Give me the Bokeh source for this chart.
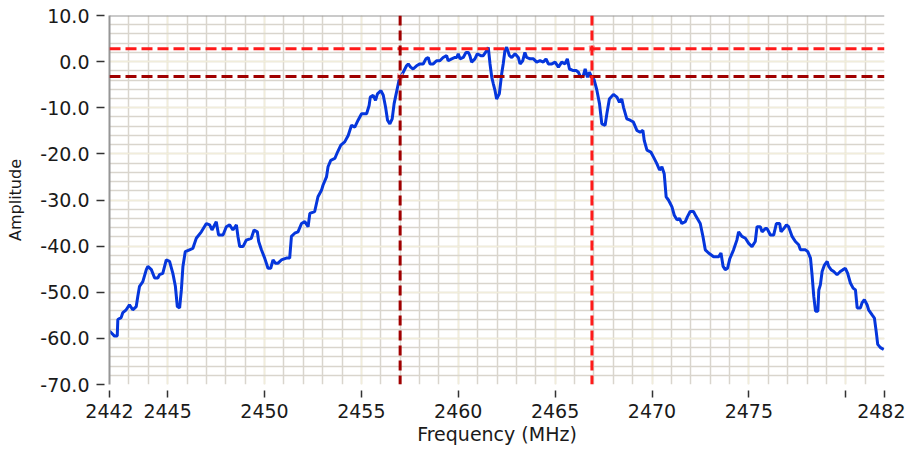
from bokeh.plotting import figure
from bokeh.models import Range1d, FixedTicker, PrintfTickFormatter, Span
from bokeh.embed import file_html
from bokeh.resources import INLINE

# Spectrum trace: frequency (MHz) and amplitude (dB)
freq = [
    2442.00, 2442.26, 2442.40, 2442.43, 2442.60, 2442.69, 2442.86, 2443.03, 2443.20, 2443.38,
    2443.46, 2443.55, 2443.72, 2443.90, 2443.98, 2444.16, 2444.33, 2444.50, 2444.58, 2444.75,
    2444.93, 2445.10, 2445.27, 2445.40, 2445.50, 2445.62, 2445.71, 2445.79, 2445.91, 2446.13,
    2446.30, 2446.48, 2446.74, 2447.00, 2447.17, 2447.29, 2447.51, 2447.63, 2447.86, 2448.03,
    2448.20, 2448.37, 2448.55, 2448.63, 2448.72, 2448.89, 2449.06, 2449.32, 2449.46, 2449.63,
    2449.70, 2449.84, 2450.01, 2450.18, 2450.32, 2450.44, 2450.56, 2450.70, 2450.87, 2451.13,
    2451.30, 2451.39, 2451.56, 2451.73, 2451.91, 2452.08, 2452.25, 2452.34, 2452.59, 2452.76,
    2452.94, 2453.02, 2453.20, 2453.28, 2453.42, 2453.63, 2453.77, 2453.94, 2454.14, 2454.32,
    2454.49, 2454.66, 2454.83, 2455.01, 2455.27, 2455.40, 2455.46, 2455.61, 2455.73, 2455.83,
    2456.01, 2456.13, 2456.25, 2456.35, 2456.47, 2456.59, 2456.69, 2456.76, 2456.87, 2456.94,
    2457.07, 2457.16, 2457.33, 2457.42, 2457.54, 2457.67, 2457.85, 2458.02, 2458.19, 2458.33,
    2458.45, 2458.54, 2458.71, 2458.88, 2459.05, 2459.22, 2459.40, 2459.48, 2459.66, 2459.83,
    2459.92, 2460.00, 2460.09, 2460.26, 2460.40, 2460.52, 2460.60, 2460.69, 2460.86, 2460.98,
    2461.16, 2461.29, 2461.47, 2461.55, 2461.64, 2461.73, 2461.81, 2461.90, 2461.98, 2462.12,
    2462.24, 2462.32, 2462.41, 2462.50, 2462.64, 2462.76, 2462.93, 2463.10, 2463.19, 2463.33,
    2463.44, 2463.53, 2463.71, 2463.88, 2464.05, 2464.22, 2464.39, 2464.53, 2464.65, 2464.83,
    2465.00, 2465.17, 2465.34, 2465.51, 2465.63, 2465.74, 2465.91, 2466.08, 2466.20, 2466.32,
    2466.46, 2466.55, 2466.67, 2466.77, 2466.89, 2467.01, 2467.15, 2467.29, 2467.41, 2467.58,
    2467.67, 2467.80, 2468.01, 2468.19, 2468.32, 2468.44, 2468.53, 2468.70, 2468.87, 2469.04,
    2469.22, 2469.39, 2469.53, 2469.60, 2469.74, 2469.94, 2470.08, 2470.25, 2470.39, 2470.51,
    2470.63, 2470.73, 2470.85, 2471.03, 2471.15, 2471.29, 2471.42, 2471.54, 2471.72, 2471.83,
    2471.97, 2472.14, 2472.28, 2472.49, 2472.63, 2472.75, 2472.92, 2473.18, 2473.44, 2473.56,
    2473.67, 2473.78, 2473.90, 2474.01, 2474.21, 2474.38, 2474.47, 2474.64, 2474.82, 2474.99,
    2475.16, 2475.33, 2475.42, 2475.59, 2475.68, 2475.85, 2475.94, 2476.11, 2476.28, 2476.42,
    2476.59, 2476.66, 2476.80, 2476.94, 2477.05, 2477.23, 2477.40, 2477.57, 2477.66, 2477.92,
    2478.04, 2478.18, 2478.26, 2478.35, 2478.44, 2478.56, 2478.61, 2478.69, 2478.78, 2478.90,
    2479.04, 2479.12, 2479.24, 2479.38, 2479.55, 2479.72, 2479.86, 2479.98, 2480.10, 2480.24,
    2480.38, 2480.50, 2480.59, 2480.76, 2480.84, 2480.96, 2481.10, 2481.18, 2481.36, 2481.48,
    2481.58, 2481.65, 2481.79, 2481.96,
]
amplitude = [
    -58.4, -59.5, -59.5, -55.9, -55.5, -54.4, -53.8, -52.7, -53.8, -53.1,
    -50.9, -48.7, -47.7, -45.1, -44.4, -45.1, -46.9, -46.9, -46.2, -45.9,
    -43.0, -43.3, -45.9, -48.7, -53.1, -53.4, -49.5, -44.4, -41.2, -40.8,
    -40.5, -38.3, -36.9, -35.1, -35.4, -36.5, -34.7, -37.6, -37.6, -35.8,
    -35.4, -36.5, -35.4, -37.9, -40.1, -40.1, -38.7, -38.3, -36.5, -36.9,
    -39.0, -40.8, -42.6, -44.8, -44.8, -43.0, -43.7, -43.7, -43.0, -42.6,
    -42.6, -37.9, -37.2, -36.9, -35.1, -34.7, -35.8, -32.9, -32.5, -29.3,
    -27.9, -26.8, -25.0, -22.8, -21.4, -21.0, -19.6, -18.1, -17.4, -16.0,
    -13.8, -14.2, -12.7, -11.3, -11.3, -9.5, -7.7, -7.3, -8.4, -7.0,
    -6.3, -7.3, -9.9, -12.7, -13.5, -12.4, -9.1, -7.7, -5.5, -4.1,
    -3.0, -2.3, -0.9, -0.5, -1.2, -1.6, -0.9, -0.5, -0.5, 0.6,
    0.9, -0.5, -0.5, 0.2, 0.2, 0.9, 1.3, 0.2, 0.6, 0.9,
    0.9, 1.7, 0.6, 0.9, 2.0, 2.0, 1.3, -0.1, 0.6, 1.7,
    1.3, 1.3, 2.4, 3.1, -0.5, -3.4, -4.8, -6.3, -8.1, -7.0,
    -2.7, -0.5, 2.4, 3.1, 1.3, 0.9, 1.7, 0.9, -0.5, 0.2,
    2.0, 0.9, 0.6, 0.6, -0.1, 0.2, -0.1, 0.6, -0.5, -0.5,
    -0.1, -1.2, -0.1, -0.5, 0.6, -1.6, -1.9, -1.9, -2.3, -3.4,
    -3.0, -1.6, -3.4, -2.3, -3.4, -3.9, -6.1, -9.1, -13.5, -13.8,
    -11.3, -8.1, -7.1, -7.7, -8.8, -8.1, -9.9, -12.4, -12.7, -13.1,
    -14.9, -15.3, -14.9, -17.1, -19.2, -19.6, -20.7, -22.1, -23.5, -22.8,
    -24.3, -29.3, -30.0, -31.5, -33.3, -34.3, -34.0, -35.1, -34.7, -33.6,
    -32.5, -32.5, -33.6, -35.1, -37.9, -40.8, -41.5, -42.3, -42.3, -41.5,
    -44.4, -45.1, -44.8, -42.8, -40.8, -38.7, -36.9, -37.9, -38.3, -39.4,
    -40.1, -39.0, -35.8, -35.8, -36.9, -36.2, -36.2, -37.6, -37.6, -35.1,
    -35.1, -36.9, -36.2, -35.4, -35.8, -37.9, -39.0, -39.7, -40.8, -40.8,
    -41.2, -42.6, -46.2, -50.9, -54.1, -54.1, -49.5, -48.4, -45.5, -44.1,
    -43.3, -44.4, -45.1, -45.5, -46.2, -45.5, -45.1, -44.8, -45.9, -48.0,
    -49.1, -49.5, -53.4, -53.4, -52.3, -51.6, -52.7, -53.8, -54.9, -55.6,
    -58.8, -61.3, -62.0, -62.4,
]

# Cursor positions
cursor_freq_a = 2457.0
cursor_freq_b = 2466.9
cursor_level_hi = 2.8
cursor_level_lo = -3.2

# Axis ticks
x_ticks = [2442, 2445, 2450, 2455, 2460, 2465, 2470, 2475, 2480, 2482]
x_minor = list(range(2442, 2483))
y_ticks = [10, 0, -10, -20, -30, -40, -50, -60, -70]
y_minor = list(range(-70, 11, 2))

FONT = "DejaVu Sans"

p = figure(
    width=905, height=450,
    x_range=Range1d(2442, 2482), y_range=Range1d(-70, 10),
    min_border_left=109, min_border_right=21, min_border_top=15, min_border_bottom=66,
    output_backend="svg", toolbar_location=None,
)
p.background_fill_color = "white"
p.border_fill_color = "white"
p.outline_line_color = None

# Grid: light grey minor lines with cream major lines on top
for grid, ticks, minor in ((p.xgrid, x_ticks, x_minor), (p.ygrid, y_ticks, y_minor)):
    grid.ticker = FixedTicker(ticks=ticks, minor_ticks=minor)
    grid.grid_line_color = "#F1EDDB"
    grid.grid_line_width = 1.5
    grid.minor_grid_line_color = "#D9D5CD"
    grid.minor_grid_line_width = 1.5

# X axis
xa = p.xaxis[0]
xa.ticker = FixedTicker(ticks=x_ticks)
xa.major_label_overrides = {2480: ""}
xa.axis_line_color = None
xa.major_tick_in = -6
xa.major_tick_out = 13
xa.major_tick_line_color = "#333333"
xa.major_tick_line_width = 1.5
xa.minor_tick_line_color = None
xa.major_label_standoff = 6
xa.major_label_text_font = FONT
xa.major_label_text_font_size = "19px"
xa.major_label_text_color = "#1a1a1a"
xa.axis_label = "Frequency (MHz)"
xa.axis_label_text_font = FONT
xa.axis_label_text_font_size = "19px"
xa.axis_label_text_font_style = "normal"
xa.axis_label_text_color = "#1a1a1a"
xa.axis_label_standoff = 2

# Y axis
ya = p.yaxis[0]
ya.ticker = FixedTicker(ticks=y_ticks)
ya.formatter = PrintfTickFormatter(format="%.1f")
ya.axis_line_color = "#969696"
ya.axis_line_width = 2
ya.major_tick_in = -5
ya.major_tick_out = 13
ya.major_tick_line_color = "#333333"
ya.major_tick_line_width = 1.5
ya.minor_tick_line_color = None
ya.major_label_standoff = 7
ya.major_label_text_font = FONT
ya.major_label_text_font_size = "19px"
ya.major_label_text_color = "#1a1a1a"
ya.axis_label = "Amplitude"
ya.axis_label_text_font = FONT
ya.axis_label_text_font_size = "16px"
ya.axis_label_text_font_style = "normal"
ya.axis_label_text_color = "#1a1a1a"
ya.axis_label_standoff = 12

# Top edge of the plot area
p.add_layout(Span(location=10, dimension="width", line_color="#969696", line_width=2))

# Spectrum trace
p.line(freq, amplitude, line_color="#0536DC", line_width=3)

# Cursors
p.add_layout(Span(location=cursor_level_hi, dimension="width",
                  line_color="#FF1A1A", line_width=3, line_dash="11 5"))
p.add_layout(Span(location=cursor_level_lo, dimension="width",
                  line_color="#A00000", line_width=3, line_dash="11 5"))
p.add_layout(Span(location=cursor_freq_a, dimension="height",
                  line_color="#A00000", line_width=3, line_dash="10 5"))
p.add_layout(Span(location=cursor_freq_b, dimension="height",
                  line_color="#FF1A1A", line_width=3, line_dash="10 5"))
p.scatter([cursor_freq_a, cursor_freq_b], [cursor_level_lo, cursor_level_hi],
          marker="x", size=8, line_color="#FF9A9A", line_width=1.5)

open("out.html", "w").write(file_html(p, INLINE))
